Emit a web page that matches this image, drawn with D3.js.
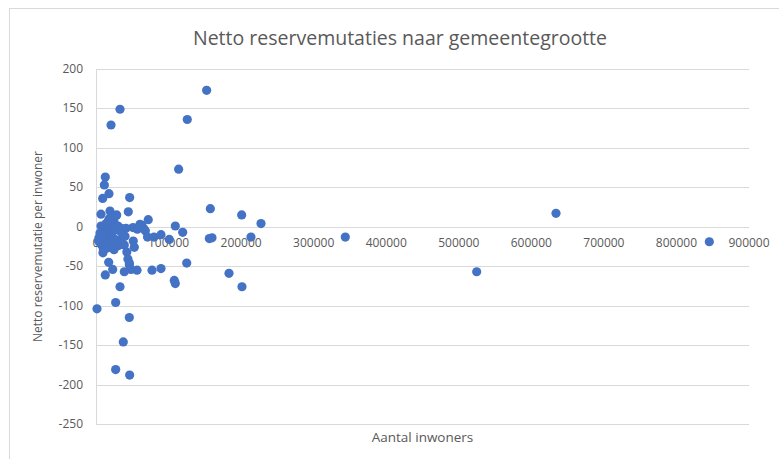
<!DOCTYPE html>
<html>
<head>
<meta charset="utf-8">
<script src="https://cdn.jsdelivr.net/npm/d3@7"></script>
<style>
  body { margin: 0; background: #fff; }
  text { font-family: "Open Sans", "Noto Sans", sans-serif; fill: #595959; }
</style>
</head>
<body>
<svg id="canvas" width="779" height="459"></svg>
<script>
// aantal inwoners per gemeente
let inwoners = [
  152500, 125800, 33100, 20700, 113900, 12800, 11500, 17900, 9200, 46400,
  157600, 200800, 634000, 227400, 72000, 44500, 19300, 28500, 17500, 109300,
  119500, 343600, 213600, 156200, 159900, 845300, 524700, 51000, 63000, 65500,
  68000, 71000, 80000, 89600, 101000, 51400, 52800, 39000, 42500, 44000,
  46000, 17500, 23000, 12800, 39000, 46000, 48200, 56500, 77200, 89600,
  107900, 109300, 125000, 33100, 1400, 27100, 45900, 37600, 27100, 46400,
  183300, 201200, 6900, 19300, 24800, 27600, 11000, 15200, 20700, 12400,
  17900, 23400, 28900, 31700, 35800, 37200, 34500, 30300, 41300, 22000,
  16500, 6900, 4100, 6900, 15200, 24800, 30300, 9600, 5500, 8300,
  13800, 25600, 33800, 40000, 57000, 60500, 10000, 21000, 14000, 3500
]
// netto reservemutatie per inwoner
let mutatie = [
  173, 136, 149, 129, 73, 63, 53, 42, 36, 37,
  23, 15, 17, 4, 9, 19, 20, 15, 9, 1,
  -7, -13, -13, -15, -14, -19, -57, -1, 2, -2,
  -5, -13, -13, -10, -16, -18, -26, -23, -32, -41,
  -48, -45, -54, -61, -57, -46, -54, -55, -55, -53,
  -68, -72, -46, -76, -104, -96, -115, -146, -181, -188,
  -59, -76, 16, 11, 6, 14, -4, -7, -10, -17,
  -21, -14, -17, -23, -21, -10, -2, 1, -2, -2,
  1, 1, -14, -22, -27, -29, -24, -33, -8, -11,
  -19, -4, -6, -12, -3, 3, -28, -20, 4, -18
]
let yTicks = [200, 150, 100, 50, 0, -50, -100, -150, -200, -250]
let xTicks = [0, 100000, 200000, 300000, 400000, 500000, 600000, 700000, 800000, 900000]

let canvas = d3.select('#canvas')

let plotLeft = 96, plotRight = 749, plotTop = 69, plotBottom = 424

let xScale = d3.scaleLinear().domain([0, 900000]).range([plotLeft, plotRight])
let yScale = d3.scaleLinear().domain([-250, 200]).range([plotBottom, plotTop])

// rand om de grafiek
canvas.append('rect')
    .attr('x', 9.5).attr('y', 8.5)
    .attr('width', 800).attr('height', 500)
    .attr('fill', 'none')
    .attr('stroke', '#d9d9d9')

canvas.append('text')
    .attr('x', 400).attr('y', 45)
    .attr('text-anchor', 'middle')
    .style('font-size', '19.5px')
    .text('Netto reservemutaties naar gemeentegrootte')

// horizontale rasterlijnen
canvas.selectAll('.grid')
    .data(yTicks)
    .enter()
    .append('line')
    .attr('class', 'grid')
    .attr('x1', plotLeft).attr('x2', plotRight)
    .attr('y1', (d) => Math.round(yScale(d)) + 0.5)
    .attr('y2', (d) => Math.round(yScale(d)) + 0.5)
    .attr('stroke', '#d9d9d9')

// verticale as
canvas.append('line')
    .attr('x1', plotLeft + 0.5).attr('x2', plotLeft + 0.5)
    .attr('y1', plotTop).attr('y2', plotBottom)
    .attr('stroke', '#d9d9d9')

canvas.selectAll('.ylabel')
    .data(yTicks)
    .enter()
    .append('text')
    .attr('class', 'ylabel')
    .attr('x', plotLeft - 13)
    .attr('y', (d) => yScale(d) + 4)
    .attr('text-anchor', 'end')
    .style('font-size', '12px')
    .text((d) => d)

canvas.selectAll('.xlabel')
    .data(xTicks)
    .enter()
    .append('text')
    .attr('class', 'xlabel')
    .attr('x', (d) => xScale(d))
    .attr('y', yScale(0) + 20)
    .attr('text-anchor', 'middle')
    .style('font-size', '12px')
    .text((d) => d)

canvas.append('text')
    .attr('x', (plotLeft + plotRight) / 2).attr('y', 442)
    .attr('text-anchor', 'middle')
    .style('font-size', '13.5px')
    .text('Aantal inwoners')

canvas.append('text')
    .attr('transform', `translate(42, ${(plotTop + plotBottom) / 2}) rotate(-90)`)
    .attr('text-anchor', 'middle')
    .style('font-size', '12px')
    .text('Netto reservemutatie  per inwoner')

canvas.selectAll('circle')
    .data(inwoners)
    .enter()
    .append('circle')
    .attr('cx', (d) => xScale(d))
    .attr('cy', (d, i) => yScale(mutatie[i]))
    .attr('r', 4.6)
    .attr('fill', '#4472c4')
</script>
</body>
</html>
